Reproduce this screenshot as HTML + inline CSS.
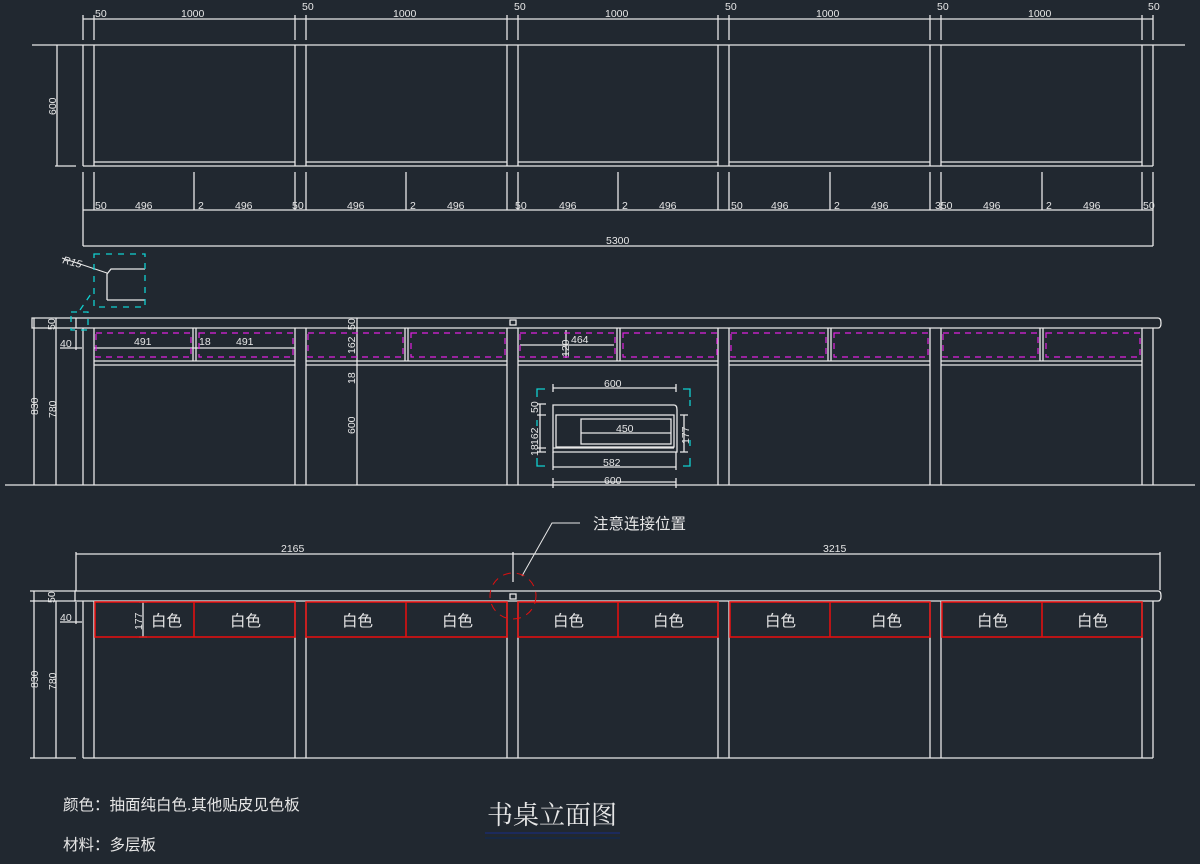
<!DOCTYPE html>
<html><head><meta charset="utf-8"><style>
html,body{margin:0;padding:0;background:#212830;}
svg{display:block}
text{font-family:"Liberation Sans","Noto Sans CJK SC",sans-serif;fill:#e6e6e6}
.d{font-size:10.5px}
</style></head><body>
<svg width="1200" height="864" viewBox="0 0 1200 864" xmlns="http://www.w3.org/2000/svg">
<rect width="1200" height="864" fill="#212830"/>
<g stroke="#e8e8e8" stroke-width="1.3" fill="none">
<!-- TOP PLAN -->
<line x1="32" y1="45" x2="1185" y2="45"/>
<line x1="83" y1="166" x2="1153" y2="166"/>
<path d="M94 162H295M306 162H507M518 162H718M729 162H930M941 162H1142"/>
<path d="M83 45V166M94 45V166M295 45V166M306 45V166M507 45V166M518 45V166M718 45V166M729 45V166M930 45V166M941 45V166M1142 45V166M1153 45V166"/>
<line x1="83" y1="19" x2="1153" y2="19"/>
<path d="M83 15V40M94 15V40M295 15V40M306 15V40M507 15V40M518 15V40M718 15V40M729 15V40M930 15V40M941 15V40M1142 15V40M1153 15V40"/>
<line x1="57" y1="45" x2="57" y2="166"/><line x1="55" y1="166" x2="76" y2="166"/>
<path d="M83 172V246M94 172V210M194 172V210M295 172V210M306 172V210M406 172V210M507 172V210M518 172V210M618 172V210M718 172V210M729 172V210M830 172V210M930 172V210M941 172V210M1042 172V210M1142 172V210M1153 172V246"/>
<line x1="83" y1="210" x2="1153" y2="210"/>
<line x1="83" y1="246" x2="1153" y2="246"/>
<!-- MID ELEVATION -->
<path d="M32 318H1158Q1161 318 1161 323Q1161 328 1158 328H32Z"/>
<path d="M94 361H295M306 361H507M518 361H718M729 361H930M941 361H1142M94 365H295M306 365H507M518 365H718M729 365H930M941 365H1142"/>
<path d="M83 328V485M94 328V485M295 328V485M306 328V485M507 328V485M518 328V485M718 328V485M729 328V485M930 328V485M941 328V485M1142 328V485M1153 328V485"/>
<path d="M193 328V361M196 328V361M405 328V361M408 328V361M617 328V361M620 328V361M828 328V361M831 328V361M1040 328V361M1043 328V361"/>
<line x1="5" y1="485" x2="1195" y2="485"/>
<line x1="34" y1="318" x2="34" y2="485"/><line x1="56" y1="318" x2="56" y2="485"/>
<line x1="60" y1="348" x2="82" y2="348"/><line x1="76" y1="330" x2="76" y2="350"/>
<line x1="357" y1="318" x2="357" y2="485"/>
<line x1="94" y1="348" x2="295" y2="348"/>
<line x1="520" y1="345" x2="614" y2="345"/><line x1="566" y1="330" x2="566" y2="358"/>
<rect x="510" y="320" width="6" height="5"/>
<!-- drawer detail -->
<path d="M553 405H674Q677 405 677 410V452H553Z"/>
<rect x="556" y="415" width="118" height="32"/>
<rect x="581" y="419" width="90" height="25"/>
<line x1="553" y1="448" x2="674" y2="448"/>
<line x1="553" y1="388" x2="676" y2="388"/><path d="M553 384V392M676 384V392"/>
<line x1="553" y1="467" x2="676" y2="467"/><path d="M553 452V470M676 452V470"/>
<line x1="553" y1="482" x2="676" y2="482"/><path d="M553 478V488M676 478V488"/>
<line x1="581" y1="433" x2="671" y2="433"/>
<line x1="540" y1="404" x2="540" y2="452"/><path d="M537 404H546M537 415H546M537 448H546M537 452H546"/>
<line x1="684" y1="415" x2="684" y2="452"/><path d="M680 415H688M680 452H688"/>
<!-- R15 detail -->
<path d="M107 300V274L111 269H145M107 300H145"/>
<line x1="62" y1="258" x2="107" y2="273" stroke-width="1"/>
<line x1="76" y1="318" x2="76" y2="328"/>
<!-- BOTTOM ELEVATION -->
<path d="M75 591H1158Q1161 591 1161 596Q1161 601 1158 601H75Z"/>
<path d="M83 601V758M94 601V758M295 601V758M306 601V758M507 601V758M518 601V758M718 601V758M729 601V758M930 601V758M941 601V758M1142 601V758M1153 601V758"/>
<line x1="83" y1="758" x2="1153" y2="758"/>
<line x1="34" y1="591" x2="34" y2="758"/><line x1="56" y1="601" x2="56" y2="758"/>
<path d="M30 591H76M30 758H76M30 601H76"/>
<line x1="60" y1="622" x2="82" y2="622"/><line x1="76" y1="602" x2="76" y2="624"/>
<line x1="143" y1="602" x2="143" y2="637"/><path d="M139 602H147M139 637H147"/>
<line x1="76" y1="554" x2="1160" y2="554"/>
<path d="M76 552V591M513 552V582M1160 552V590"/>
<rect x="510" y="594" width="6" height="5"/>
<path d="M522 576L552 523H580" stroke-width="1"/>
</g>
<!-- magenta dashed -->
<g stroke="#e020e0" stroke-width="1.2" fill="none" stroke-dasharray="6,5">
<rect x="96" y="333" width="95" height="24"/><rect x="199" y="333" width="94" height="24"/>
<rect x="308" y="333" width="95" height="24"/><rect x="411" y="333" width="94" height="24"/>
<rect x="520" y="333" width="95" height="24"/><rect x="623" y="333" width="94" height="24"/>
<rect x="731" y="333" width="95" height="24"/><rect x="834" y="333" width="94" height="24"/>
<rect x="943" y="333" width="95" height="24"/><rect x="1046" y="333" width="94" height="24"/>
</g>
<!-- cyan -->
<g stroke="#10d0d0" stroke-width="1.3" fill="none" stroke-dasharray="6,6">
<rect x="94" y="254" width="51" height="53"/>
<rect x="71" y="312" width="17" height="18"/>
<line x1="80" y1="310" x2="93" y2="291"/>
<path d="M545 389H537V397M683 389H690V397M545 466H537V458M683 466H690V458" stroke-dasharray="none"/>
<path d="M690 400V410M690 440V450M537 420V430" />
</g>
<!-- red -->
<g stroke="#e01010" stroke-width="1.6" fill="none">
<rect x="95" y="602" width="200" height="35"/><line x1="194" y1="602" x2="194" y2="637"/>
<rect x="306" y="602" width="201" height="35"/><line x1="406" y1="602" x2="406" y2="637"/>
<rect x="518" y="602" width="200" height="35"/><line x1="618" y1="602" x2="618" y2="637"/>
<rect x="730" y="602" width="200" height="35"/><line x1="830" y1="602" x2="830" y2="637"/>
<rect x="942" y="602" width="200" height="35"/><line x1="1042" y1="602" x2="1042" y2="637"/>
<circle cx="513" cy="596" r="23" stroke-width="1" stroke-dasharray="8,6"/>
</g>
<!-- dimension texts -->
<g class="d">
<text x="95" y="17">50</text><text x="181" y="17">1000</text>
<text x="302" y="10">50</text><text x="393" y="17">1000</text>
<text x="514" y="10">50</text><text x="605" y="17">1000</text>
<text x="725" y="10">50</text><text x="816" y="17">1000</text>
<text x="937" y="10">50</text><text x="1028" y="17">1000</text>
<text x="1148" y="10">50</text>
<text x="0" y="0" transform="translate(56,115) rotate(-90)">600</text>
<text x="95" y="209">50</text><text x="135" y="209">496</text><text x="198" y="209">2</text><text x="235" y="209">496</text><text x="292" y="209">50</text>
<text x="347" y="209">496</text><text x="410" y="209">2</text><text x="447" y="209">496</text><text x="515" y="209">50</text>
<text x="559" y="209">496</text><text x="622" y="209">2</text><text x="659" y="209">496</text><text x="731" y="209">50</text>
<text x="771" y="209">496</text><text x="834" y="209">2</text><text x="871" y="209">496</text><text x="935" y="209">350</text>
<text x="983" y="209">496</text><text x="1046" y="209">2</text><text x="1083" y="209">496</text><text x="1143" y="209">50</text>
<text x="606" y="244">5300</text>
<text x="62" y="263" transform="rotate(15 62 263)" font-style="italic">R15</text>
<text x="0" y="0" transform="translate(55,330) rotate(-90)">50</text>
<text x="60" y="347">40</text>
<text x="0" y="0" transform="translate(38,415) rotate(-90)">830</text>
<text x="0" y="0" transform="translate(56,418) rotate(-90)">780</text>
<text x="134" y="345">491</text><text x="199" y="345">18</text><text x="236" y="345">491</text>
<text x="0" y="0" transform="translate(355,330) rotate(-90)">50</text>
<text x="0" y="0" transform="translate(355,354) rotate(-90)">162</text>
<text x="0" y="0" transform="translate(355,384) rotate(-90)">18</text>
<text x="0" y="0" transform="translate(355,434) rotate(-90)">600</text>
<text x="0" y="0" transform="translate(569,357) rotate(-90)">120</text>
<text x="571" y="343">464</text>
<text x="604" y="387">600</text><text x="616" y="432">450</text><text x="603" y="466">582</text><text x="604" y="484">600</text>
<text x="0" y="0" transform="translate(538,413) rotate(-90)">50</text>
<text x="0" y="0" transform="translate(538,445) rotate(-90)">162</text>
<text x="0" y="0" transform="translate(538,456) rotate(-90)">18</text>
<text x="0" y="0" transform="translate(689,444) rotate(-90)">177</text>
<text x="281" y="552">2165</text><text x="823" y="552">3215</text>
<text x="0" y="0" transform="translate(55,603) rotate(-90)">50</text>
<text x="60" y="621">40</text>
<text x="0" y="0" transform="translate(38,688) rotate(-90)">830</text>
<text x="0" y="0" transform="translate(56,690) rotate(-90)">780</text>
<text x="0" y="0" transform="translate(142,630) rotate(-90)">177</text>
</g>
<g font-size="15.5">
<text x="151" y="626">白色</text><text x="230" y="626">白色</text>
<text x="342" y="626">白色</text><text x="442" y="626">白色</text>
<text x="553" y="626">白色</text><text x="653" y="626">白色</text>
<text x="765" y="626">白色</text><text x="871" y="626">白色</text>
<text x="977" y="626">白色</text><text x="1077" y="626">白色</text>
<text x="593" y="529">注意连接位置</text>
<text x="63" y="810">颜色：抽面纯白色.其他贴皮见色板</text>
<text x="63" y="850">材料：多层板</text>
</g>
<text x="487" y="824" font-size="26" style='font-family:"Noto Serif CJK SC",serif'>书桌立面图</text>
<line x1="485" y1="833" x2="620" y2="833" stroke="#1a2a6a" stroke-width="1.5"/>
<line x1="485" y1="838" x2="620" y2="838" stroke="#14284a" stroke-width="1.5"/>
</svg>
</body></html>
